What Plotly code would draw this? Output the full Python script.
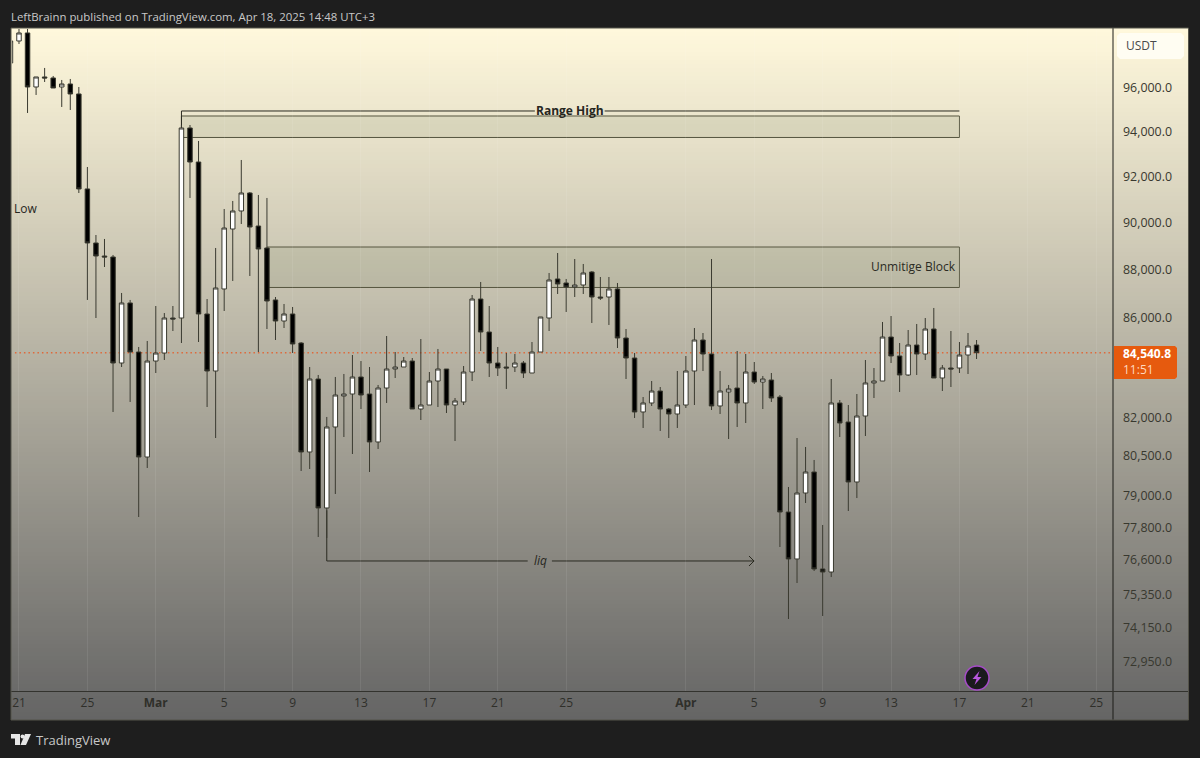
import math
import plotly.graph_objects as go
import pandas as pd

# 12h candles, first one partly clipped at the left edge
first_candle = "2025-02-20 12:00"
open_ = [97110,98136,98513,96000,96461,96415,96000,96138,95680,91430,89096,88543,88501,84124,86575,84568,80425,84204,84527,85955,85955,94135,92616,86120,83803,87157,89694,90471,91253,89823,88883,86700,85832,86120,84933,80618,83483,78487,81588,82807,82886,83563,82886,81005,83124,83883,83963,84204,82293,82451,83403,83883,82451,82570,83763,86740,85381,84124,83963,83963,84124,83723,84568,85955,87575,87407,87240,87323,87868,86823,86823,87157,85136,84326,82176,82530,83005,82293,82097,82451,83803,85055,84487,82412,82966,83124,82530,83763,83363,83443,82767,78336,76595,79051,79850,76229,76119,82530,81783,79469,82018,83324,83403,85177,84407,83643,84852,84487,85504,83523,83923,83923,84447,84852]
high = [98650,99000,99000,96461,96878,96507,96323,96369,96000,92395,89437,89267,88586,86990,86700,84771,85015,86450,86160,86450,94270,94270,93552,86740,88883,90557,90905,92705,91296,91166,91035,86823,86533,86409,84974,83963,83643,81979,83563,83683,84447,84204,83963,83244,85218,84568,84366,84326,85096,83763,84690,83883,82727,84003,86906,87449,86450,84771,84528,84487,84204,84974,85996,87826,88670,87575,88416,88205,87910,87658,87658,87407,85504,84528,82767,83403,83164,82333,83803,84407,85545,85340,88416,83803,83244,84609,84487,84164,83603,83723,82846,79279,81159,80811,80310,77851,83483,82648,82451,82886,84245,83923,85791,86037,84933,85463,85709,85955,86368,84043,85422,84974,85340,85055]
low = [96880,97996,94814,95634,96230,95954,95086,94950,91253,86700,85955,88078,82176,83963,82570,78149,80003,83723,84245,85422,84933,91035,84974,82372,81159,86243,87491,89909,87700,84568,85504,85055,85545,84528,79888,79964,77405,77368,79014,81198,80540,82293,79850,80734,82530,83523,83963,82293,81861,82451,82372,82136,81043,82451,83403,84609,83563,83603,83085,83763,83523,83723,84568,85422,86948,86203,86823,86948,85750,86700,85668,84730,83483,81940,81549,82412,81432,81159,81549,82333,82451,83803,82254,82097,81120,81588,81744,83284,82293,82570,77035,74427,75720,78674,76156,74534,75937,81198,78374,78862,81237,82727,83403,84124,82966,83603,83643,84245,83523,83005,83164,83723,83683,84285]
close = [98136,98513,96000,96461,96415,95954,96138,95680,91430,89096,88543,88501,84124,86575,84568,80425,84204,84527,85955,85914,94135,92616,86120,83803,87198,89737,90471,91253,89780,88840,86657,85832,86120,84893,80618,83483,78487,81588,82846,82886,83563,82846,81005,83124,83883,83963,84204,82293,82451,83403,83883,82451,82609,83763,86740,85381,84124,83923,83923,84124,83723,84568,85996,87533,87365,87240,87323,87826,86823,86782,87157,85136,84326,82176,82530,83005,82293,82097,82451,83803,85055,84487,82412,83005,83085,82530,83763,83363,83483,82727,78336,76595,79051,79850,76229,76119,82530,81744,79469,82018,83324,83403,85177,84407,83643,84852,84487,85504,83523,83923,83883,84447,84811,84540.8]

last_price = 84540.8
countdown = "11:51"
y_ticks = [96000,94000,92000,90000,88000,86000,82000,80500,79000,77800,76600,75350,74150,72950]
x_ticks = ["2025-02-21","2025-02-25","2025-03-01","2025-03-05","2025-03-09","2025-03-13","2025-03-17","2025-03-21","2025-03-25","2025-04-01","2025-04-05","2025-04-09","2025-04-13","2025-04-17","2025-04-21","2025-04-25"]
x_labels = ["21","25","<b>Mar</b>","5","9","13","17","21","25","<b>Apr</b>","5","9","13","17","21","25"]

range_high_line = 94904
range_high_zone = (93709, 94677)
block_zone = (87220, 88925)
liq_level = 76522
low_label_price = 90557

W, H = 1200, 758
L, R, T, B = 12, 1113, 29, 691
FONT = "Open Sans"
INK = "#33332c"

def px(x):
    return (x - L) / (R - L)

def py(y):
    return (B - y) / (B - T)

dates = pd.date_range(first_candle, periods=len(open_), freq="12h")

fig = go.Figure(go.Candlestick(
    x=dates, open=open_, high=high, low=low, close=close,
    increasing=dict(fillcolor="#ffffff", line=dict(color="#3a3a30", width=1)),
    decreasing=dict(fillcolor="#000000", line=dict(color="#3a3a30", width=1)),
    whiskerwidth=0, hoverinfo="skip", showlegend=False,
))

shapes = []

def rect(x0, y0, x1, y1, fill, line=None, layer="below"):
    shapes.append(dict(type="rect", xref="paper", yref="paper", layer=layer,
                       x0=px(x0), x1=px(x1), y0=py(y0), y1=py(y1), fillcolor=fill,
                       line=dict(width=1 if line else 0, color=line or "rgba(0,0,0,0)")))

def poly(points, fill=None, line=None, width=1, close_path=True, layer="above"):
    d = "M" + " L".join(f"{px(a):.5f},{py(b):.5f}" for a, b in points) + (" Z" if close_path else "")
    shapes.append(dict(type="path", xref="paper", yref="paper", layer=layer, path=d,
                       fillcolor=fill or "rgba(0,0,0,0)",
                       line=dict(width=width if line else 0, color=line or "rgba(0,0,0,0)")))

# panel gradient
top_c, bot_c = (255, 248, 220), (100, 100, 100)
panel_top, panel_bot = 28, 720
step = 4
for yy in range(panel_top, panel_bot, step):
    t = (yy - panel_top) / (panel_bot - panel_top)
    c = tuple(round(a + (b - a) * t) for a, b in zip(top_c, bot_c))
    rect(11, yy, 1189, min(yy + step + 1, panel_bot), f"rgb{c}")

# zones and drawings on the data scale
line_col = "#56563f"
zone_fill = "rgba(105,125,85,0.13)"
def dline(x0, y0, x1, y1, color=line_col, width=1, dash="solid"):
    shapes.append(dict(type="line", xref="x", yref="y", layer="below", x0=x0, x1=x1, y0=y0, y1=y1,
                       line=dict(color=color, width=width, dash=dash)))

shapes.append(dict(type="rect", xref="x", yref="y", layer="below", x0="2025-03-02 12:00", x1="2025-04-17 00:00",
                   y0=range_high_zone[0], y1=range_high_zone[1], fillcolor=zone_fill, line=dict(color=line_col, width=1)))
shapes.append(dict(type="rect", xref="x", yref="y", layer="below", x0="2025-03-07 12:00", x1="2025-04-17 00:00",
                   y0=block_zone[0], y1=block_zone[1], fillcolor=zone_fill, line=dict(color=line_col, width=1)))
dline("2025-03-02 12:00", range_high_line, "2025-03-23 04:00", range_high_line, "#2a2a20")
dline("2025-03-27 06:00", range_high_line, "2025-04-17 00:00", range_high_line, "#2a2a20")
dline("2025-03-02 12:00", range_high_line, "2025-03-02 12:00", 94135, "#2a2a20")
dline("2025-03-11 00:00", 78400, "2025-03-11 00:00", liq_level, "#2a2a20")
dline("2025-03-11 00:00", liq_level, "2025-03-22 18:00", liq_level, "#2a2a20")
dline("2025-03-24 04:00", liq_level, "2025-04-05 00:00", liq_level, "#2a2a20")
dline(dates[0], last_price, "2025-04-27", last_price, "#e0693a", 1.4, "1.5px,3px")
poly([(749, 556), (754, 561), (749, 566)], line="#2a2a20", close_path=False)

# axis frame
shapes.append(dict(type="line", xref="paper", yref="paper", layer="above", x0=px(R), x1=px(R), y0=py(28), y1=py(720),
                   line=dict(color="#1c1c18", width=1)))
shapes.append(dict(type="line", xref="paper", yref="paper", layer="above", x0=px(11), x1=px(1189), y0=py(691.5), y1=py(691.5),
                   line=dict(color="#33332e", width=1)))
shapes.append(dict(type="rect", xref="paper", yref="paper", layer="above", x0=px(11), x1=px(1188.5), y0=py(28), y1=py(720),
                   line=dict(color="#55544a", width=1), fillcolor="rgba(0,0,0,0)"))

# USDT badge and last price badge
def rrect(x0, y0, x1, y1, r, fill):
    poly([(x0 + r, y0), (x1 - r, y0), (x1, y0 + r), (x1, y1 - r), (x1 - r, y1), (x0 + r, y1), (x0, y1 - r), (x0, y0 + r)], fill=fill)

rrect(1117, 33, 1184, 59, 3, "#fffdf2")
poly([(1114, 346), (1175, 346), (1177, 348), (1177, 377), (1175, 379), (1114, 379)], fill="#e65a0e")

# published-idea badge
shapes.append(dict(type="circle", xref="paper", yref="paper", layer="above",
                   x0=px(965), x1=px(989), y0=py(690), y1=py(666), fillcolor="#1a1a1d", line=dict(color="#a64bc8", width=1.5)))
poly([(979.5, 671), (972.5, 679), (976.5, 679), (974.5, 685), (981.5, 677), (977.5, 677)], fill="#b657dc")

# TradingView mark
poly([(11, 734), (20, 734), (20, 745), (15, 745), (15, 738.5), (11, 738.5)], fill="#e6e6e6")
poly([(25, 734), (31, 734), (26, 745), (20.5, 745)], fill="#e6e6e6")
shapes.append(dict(type="circle", xref="paper", yref="paper", layer="above",
                   x0=px(20.5), x1=px(24.5), y0=py(738.5), y1=py(734.5), fillcolor="#e6e6e6", line=dict(width=0)))

notes = []
def note(text, x, y, size=12, color=INK, anchor="left", family=FONT):
    notes.append(dict(text=text, xref="paper", yref="paper", x=px(x - 2), y=py(y), xanchor=anchor, yanchor="middle",
                      align="left", showarrow=False, font=dict(family=family, size=size, color=color)))

def dnote(text, x, y, size=12, color=INK, anchor="center"):
    notes.append(dict(text=text, xref="x", yref="y", x=x, y=math.log10(y), xanchor=anchor, yanchor="middle",
                      showarrow=False, font=dict(family=FONT, size=size, color=color)))

note("LeftBrainn published on TradingView.com, Apr 18, 2025 14:48 UTC+3", 11, 16, 11.4, "#c9c9c9")
note("USDT", 1126, 46, 12, "#4a4a4a")
note(f"<b>{last_price:,.1f}</b><br><span style='color:#ffd9bf'>{countdown}</span>", 1123, 361.5, 12, "#ffffff")
note("TradingView", 36, 740, 13, "#c8c8c8")
note("Low", 14, 209, 12, "#26261e")
dnote("<b>Range High</b>", "2025-03-25 05:00", range_high_line, 12, "#26261e")
dnote("Unmitige Block", "2025-04-16 22:00", 88120, 12, "#2b2b24", "right")
dnote("<i>liq</i>", "2025-03-23 12:00", liq_level, 12, "#26261e")

fig.update_layout(
    width=W, height=H, margin=dict(l=L, r=W - R, t=T, b=H - B, pad=0),
    paper_bgcolor="#1e1e1e", plot_bgcolor="rgba(0,0,0,0)", boxgap=0.25,
    showlegend=False, shapes=shapes, annotations=notes, hovermode=False,
    font=dict(family=FONT, size=12, color=INK),
    xaxis=dict(type="date", range=["2025-02-20 14:11", "2025-04-25 23:30"], rangeslider=dict(visible=False),
               tickmode="array", tickvals=x_ticks, ticktext=x_labels, ticks="", showgrid=True,
               gridcolor="rgba(255,255,255,0.08)", gridwidth=1, zeroline=False, showline=False,
               ticklabelstandoff=3, tickfont=dict(family=FONT, size=12, color="#2f2f2a")),
    yaxis=dict(type="log", range=[4.85677, 4.99432], side="right", tickmode="array", tickvals=y_ticks,
               ticktext=[f"{v:,.1f}" for v in y_ticks], ticks="", showgrid=False, zeroline=False, showline=False,
               ticklabelstandoff=9, ticklabelshift=1, tickfont=dict(family=FONT, size=12.4, color="#38382f")),
)

fig.write_html("out.html", config=dict(displayModeBar=False, staticPlot=True),
               post_script="document.body.style.margin='0';document.body.style.overflow='hidden';")
